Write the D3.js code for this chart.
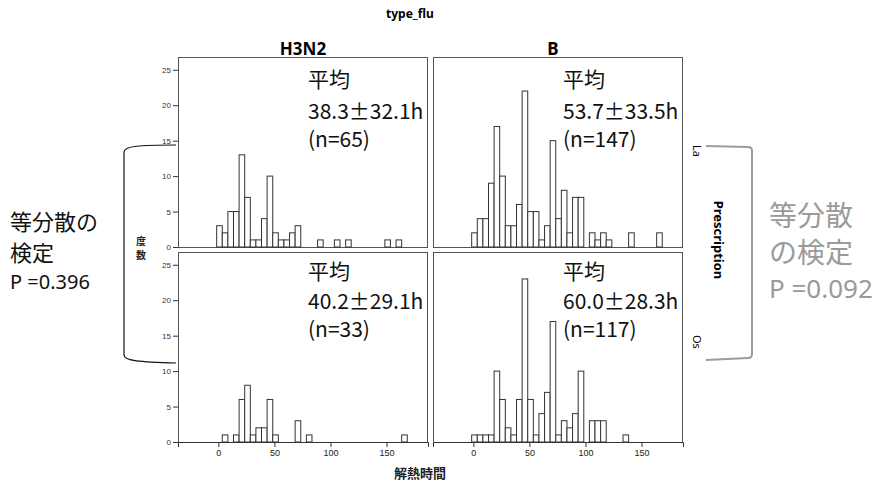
<!DOCTYPE html>
<html>
<head>
<meta charset="utf-8">
<script src="https://cdn.jsdelivr.net/npm/d3@7"></script>
<style>
  body { margin: 0; background: #fff; }
  svg { display: block; }
</style>
</head>
<body>
<div id="chart"></div>
<script>
// histogram bins (5h wide)
const binMid = [1, 6, 11, 16, 21, 26, 31, 36, 41, 46, 51, 56, 61, 66, 71, 76, 81,
                86, 91, 96, 101, 106, 111, 116, 121, 126, 131, 136, 141, 146, 151, 156, 161, 166];
const binWidth = 5;

const countsLaH3N2 = [3, 2, 5, 5, 13, 7, 1, 1, 4, 10, 2, 1, 1, 2, 3, 0, 0, 0, 1, 0, 0, 1, 0, 1, 0, 0, 0, 0, 0, 0, 1, 0, 1, 0];
const countsLaB    = [2, 4, 4, 9, 17, 10, 3, 3, 6, 22, 5, 5, 1, 3, 15, 4, 8, 2, 7, 7, 0, 2, 1, 2, 1, 0, 0, 0, 2, 0, 0, 0, 0, 2];
const countsOsH3N2 = [0, 1, 0, 1, 6, 8, 1, 2, 2, 6, 1, 0, 0, 0, 3, 0, 1, 0, 0, 0, 0, 0, 0, 0, 0, 0, 0, 0, 0, 0, 0, 0, 0, 1];
const countsOsB    = [1, 1, 1, 1, 10, 6, 2, 1, 6, 23, 6, 1, 4, 7, 17, 1, 3, 2, 4, 10, 0, 3, 3, 3, 0, 0, 0, 1, 0, 0, 0, 0, 0, 0];

const colNames = ["H3N2", "B"];
const rowNames = ["La", "Os"];
const annMean = ["38.3", "53.7", "40.2", "60.0"];
const annSd   = ["32.1", "33.5", "29.1", "28.3"];
const annN    = [65, 147, 33, 117];

const yTicks = [0, 5, 10, 15, 20, 25];
const xTicks = [0, 50, 100, 150];

const panels = [
  { col: 0, row: 0, counts: countsLaH3N2 },
  { col: 1, row: 0, counts: countsLaB },
  { col: 0, row: 1, counts: countsOsH3N2 },
  { col: 1, row: 1, counts: countsOsB }
];

const width = 884, height = 483;
const panelW = 250, panelH = 190;
const colX = [178, 433];
const rowY = [57, 252];

const svg = d3.select('#chart').append('svg')
  .attr('width', width)
  .attr('height', height)
  .style('background', '#fff');

const x = d3.scaleLinear().domain([-36, 187]).range([0, panelW]);
const y = d3.scaleLinear().domain([0, 26.8]).range([panelH, 0]);

const latin = "'Noto Sans', 'Open Sans', sans-serif";
const cjk = "'Noto Sans CJK JP', 'Noto Sans', sans-serif";
const axisFont = "'Liberation Sans', Arial, sans-serif";

panels.forEach((p, i) => {
  const g = svg.append('g')
    .attr('transform', `translate(${colX[p.col]},${rowY[p.row]})`);

  g.append('rect')
    .attr('x', 0.5).attr('y', 0.5)
    .attr('width', panelW - 1).attr('height', panelH)
    .attr('fill', 'none')
    .attr('stroke', '#555')
    .attr('stroke-width', 1);

  const bins = binMid.map((m, k) => ({ mid: m, n: p.counts[k] })).filter(d => d.n > 0);
  g.append('g')
    .selectAll('rect')
    .data(bins)
    .join('rect')
      .attr('x', d => x(d.mid - binWidth / 2))
      .attr('y', d => y(d.n))
      .attr('width', d => x(d.mid + binWidth / 2) - x(d.mid - binWidth / 2))
      .attr('height', d => y(0) - y(d.n))
      .attr('fill', '#fff')
      .attr('stroke', '#333')
      .attr('stroke-width', 1);

  if (p.col === 0) {
    const ya = g.append('g')
      .call(d3.axisLeft(y).tickValues(yTicks).tickSize(5).tickPadding(2))
      .attr('font-family', axisFont)
      .attr('font-size', 8);
    ya.select('.domain').remove();
    ya.selectAll('line').attr('stroke', '#333');
    ya.selectAll('text').attr('fill', '#333');
  }

  if (p.row === 1) {
    const xa = g.append('g')
      .attr('transform', `translate(0,${panelH})`)
      .call(d3.axisBottom(x).tickValues(xTicks).tickSize(5).tickPadding(3))
      .attr('font-family', axisFont)
      .attr('font-size', 9);
    xa.select('.domain').attr('stroke', '#333');
    xa.selectAll('line').attr('stroke', '#333');
    xa.selectAll('text').attr('fill', '#222');
  }

  // mean / sd annotation
  const t = g.append('g').attr('font-family', cjk).attr('font-size', 21).attr('fill', '#111');
  t.append('text').attr('x', 130).attr('y', p.row === 0 ? 30 : 27).text('平均');
  t.append('text').attr('x', 130).attr('y', p.row === 0 ? 62 : 57)
    .text(`${annMean[i]}±${annSd[i]}h`);
  t.append('text').attr('x', 130).attr('y', p.row === 0 ? 90 : 85)
    .text(`(n=${annN[i]})`);
});

// column strip
svg.append('text')
  .attr('x', 410).attr('y', 18)
  .attr('text-anchor', 'middle')
  .attr('font-family', latin).attr('font-weight', 'bold').attr('font-size', 12)
  .text('type_flu');

svg.selectAll('.colname')
  .data(colNames)
  .join('text')
    .attr('class', 'colname')
    .attr('x', (d, i) => colX[i] + panelW / 2 - (i ? 5 : 0))
    .attr('y', 55)
    .attr('text-anchor', 'middle')
    .attr('font-family', latin).attr('font-weight', 'bold').attr('font-size', 17)
    .text(d => d);

// row strip
svg.selectAll('.rowname')
  .data(rowNames)
  .join('text')
    .attr('class', 'rowname')
    .attr('transform', (d, i) => `translate(${693},${i ? 335 : 145}) rotate(90)`)
    .attr('font-family', latin).attr('font-size', 11)
    .text(d => d);

svg.append('text')
  .attr('transform', 'translate(714,240) rotate(90)')
  .attr('text-anchor', 'middle')
  .attr('font-family', latin).attr('font-weight', 'bold').attr('font-size', 13)
  .text('Prescription');

// axis titles
svg.append('text')
  .attr('x', 420).attr('y', 478)
  .attr('text-anchor', 'middle')
  .attr('font-family', cjk).attr('font-weight', 'bold').attr('font-size', 13)
  .attr('fill', '#222')
  .text('解熱時間');

svg.append('text')
  .attr('x', 141).attr('y', 245)
  .attr('text-anchor', 'middle')
  .attr('font-family', cjk).attr('font-weight', 'bold').attr('font-size', 10)
  .attr('fill', '#222')
  .text('度');
svg.append('text')
  .attr('x', 141).attr('y', 259)
  .attr('text-anchor', 'middle')
  .attr('font-family', cjk).attr('font-weight', 'bold').attr('font-size', 10)
  .attr('fill', '#222')
  .text('数');

// left bracket and note
svg.append('path')
  .attr('d', 'M176,145 C140,145 124,146 124,152 L124,355 C124,361 140,362 176,363')
  .attr('fill', 'none').attr('stroke', '#111').attr('stroke-width', 1.2);

const leftNote = svg.append('g').attr('fill', '#111');
leftNote.append('text').attr('x', 10).attr('y', 230)
  .attr('font-family', cjk).attr('font-size', 22).text('等分散の');
leftNote.append('text').attr('x', 10).attr('y', 261)
  .attr('font-family', cjk).attr('font-size', 22).text('検定');
leftNote.append('text').attr('x', 10).attr('y', 289)
  .attr('font-family', latin).attr('font-size', 20).text('P =0.396');

// right bracket and note (gray)
svg.append('path')
  .attr('d', 'M706,146 L748,147 Q752,147 752,151 L752,354 Q752,358 748,358 L706,360')
  .attr('fill', 'none').attr('stroke', '#9c9c9c').attr('stroke-width', 2);

const rightNote = svg.append('g').attr('fill', '#9a9a9a');
rightNote.append('text').attr('x', 769).attr('y', 226)
  .attr('font-family', cjk).attr('font-size', 28).text('等分散');
rightNote.append('text').attr('x', 769).attr('y', 263)
  .attr('font-family', cjk).attr('font-size', 28).text('の検定');
rightNote.append('text').attr('x', 769).attr('y', 298)
  .attr('font-family', latin).attr('font-size', 26).text('P =0.092');
</script>
</body>
</html>
